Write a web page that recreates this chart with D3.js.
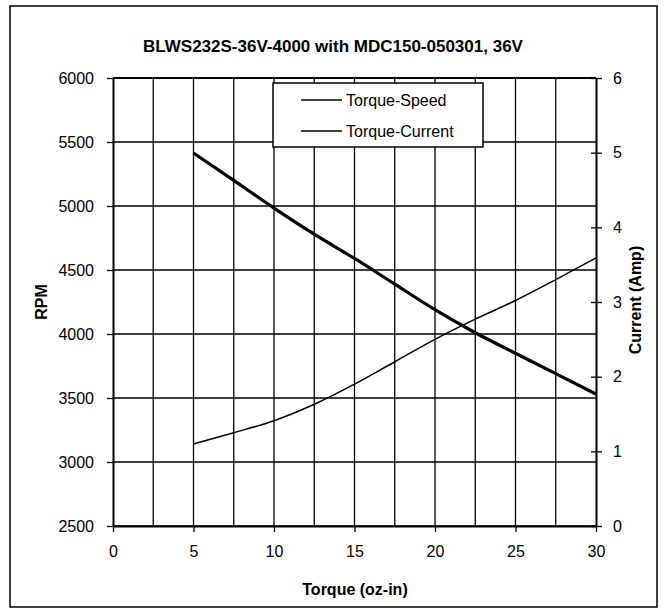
<!DOCTYPE html>
<html><head><meta charset="utf-8">
<script src="https://cdn.jsdelivr.net/npm/d3@7"></script>
<style>body{margin:0;background:#fff}svg{display:block}</style>
</head><body>
<script>
const torque = [5, 7.5, 10, 12.5, 15, 17.5, 20, 22.5, 25, 27.5, 30];
const speedRPM = [5414, 5200, 4984, 4780, 4590, 4390, 4190, 4010, 3850, 3690, 3531];
const currentAmp = [1.10, 1.25, 1.41, 1.63, 1.90, 2.20, 2.50, 2.77, 3.02, 3.30, 3.59];
const xTicks = [0, 5, 10, 15, 20, 25, 30];
const xGrid = [2.5, 5, 7.5, 10, 12.5, 15, 17.5, 20, 22.5, 25, 27.5];
const rpmTicks = [2500, 3000, 3500, 4000, 4500, 5000, 5500, 6000];
const ampTicks = [0, 1, 2, 3, 4, 5, 6];
const seriesNames = ["Torque-Speed", "Torque-Current"];
const titleText = "BLWS232S-36V-4000 with MDC150-050301, 36V";

const W = 665, H = 615;
const L = 113, R = 596, T = 78, B = 526;
const font = "Arial, 'Liberation Sans', sans-serif";

const svg = d3.select("body").append("svg").attr("width", W).attr("height", H);
svg.append("rect").attr("x", 10).attr("y", 6).attr("width", 647).attr("height", 601)
  .attr("fill", "#fff").attr("stroke", "#000").attr("stroke-width", 1.5);

const x = d3.scaleLinear().domain([0, 30]).range([L, R]);
const yL = d3.scaleLinear().domain([2500, 6000]).range([B, T]);
const yR = d3.scaleLinear().domain([0, 6]).range([B, T]);

// gridlines
const g = svg.append("g");
g.selectAll("line.v").data(xGrid).join("line")
  .attr("x1", d => x(d)).attr("x2", d => x(d)).attr("y1", T).attr("y2", B)
  .attr("stroke", "#000").attr("stroke-width", 1.3);
g.selectAll("line.h").data(rpmTicks).join("line")
  .attr("x1", L).attr("x2", R).attr("y1", d => yL(d)).attr("y2", d => yL(d))
  .attr("stroke", "#000").attr("stroke-width", d => d === 6000 ? 2 : 1.3);

// axes
const fmt = d3.format("d");
const axL = d3.axisLeft(yL).tickValues(rpmTicks).tickFormat(fmt).tickSize(6).tickPadding(13).tickSizeOuter(0);
const gL = svg.append("g").attr("transform", `translate(${L},0)`).call(axL);
const axR = d3.axisRight(yR).tickValues(ampTicks).tickFormat(fmt).tickSize(6).tickPadding(11).tickSizeOuter(0);
const gR = svg.append("g").attr("transform", `translate(${R},0)`).call(axR);
gR.selectAll(".tick line").attr("x1", -5);
const axB = d3.axisBottom(x).tickValues(xTicks).tickFormat(fmt).tickSize(6).tickPadding(14).tickSizeOuter(0);
const gB = svg.append("g").attr("transform", `translate(0,${B})`).call(axB);
[gL, gR, gB].forEach(a => {
  a.select(".domain").attr("stroke", "#000").attr("stroke-width", 2);
  a.selectAll(".tick line").attr("stroke", "#000").attr("stroke-width", 1.3);
  a.selectAll(".tick text").attr("font-family", font).attr("font-size", 16).attr("fill", "#000");
});

// series
const lineS = d3.line().x((d, i) => x(torque[i])).y(d => yL(d)).curve(d3.curveMonotoneX);
const lineC = d3.line().x((d, i) => x(torque[i])).y(d => yR(d)).curve(d3.curveMonotoneX);
svg.append("path").attr("d", lineC(currentAmp)).attr("fill", "none")
  .attr("stroke", "#000").attr("stroke-width", 1.5);
svg.append("path").attr("d", lineS(speedRPM)).attr("fill", "none")
  .attr("stroke", "#000").attr("stroke-width", 3.2);

// legend
const lg = svg.append("g");
lg.append("rect").attr("x", 273).attr("y", 83).attr("width", 210).attr("height", 64)
  .attr("fill", "#fff").attr("stroke", "#000").attr("stroke-width", 1.5);
seriesNames.forEach((n, i) => {
  const yy = 100 + i * 31;
  lg.append("line").attr("x1", 301).attr("x2", 342).attr("y1", yy).attr("y2", yy)
    .attr("stroke", "#000").attr("stroke-width", 1.3);
  lg.append("text").attr("x", 346).attr("y", yy).attr("dy", "0.35em")
    .attr("font-family", font).attr("font-size", 16).text(n);
});

// titles
svg.append("text").attr("x", 333).attr("y", 52).attr("text-anchor", "middle")
  .attr("font-family", font).attr("font-size", 17).attr("font-weight", "bold").text(titleText);
svg.append("text").attr("transform", `translate(47,302) rotate(-90)`).attr("text-anchor", "middle")
  .attr("font-family", font).attr("font-size", 16).attr("font-weight", "bold").text("RPM");
svg.append("text").attr("transform", `translate(641,300) rotate(-90)`).attr("text-anchor", "middle")
  .attr("font-family", font).attr("font-size", 16).attr("font-weight", "bold").text("Current (Amp)");
svg.append("text").attr("x", 355).attr("y", 595).attr("text-anchor", "middle")
  .attr("font-family", font).attr("font-size", 16).attr("font-weight", "bold").text("Torque (oz-in)");
</script>
</body></html>
